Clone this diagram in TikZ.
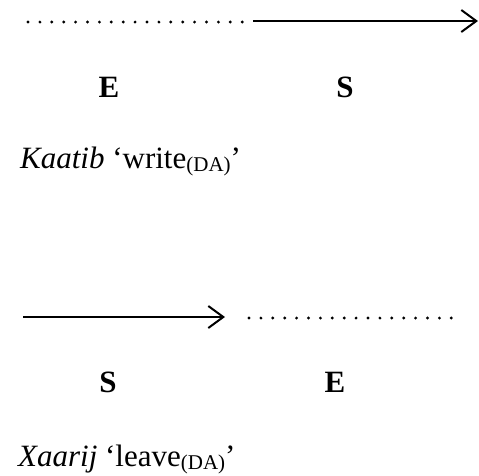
\documentclass[tikz,border=0pt]{standalone}
\usepackage{fontspec}
\setmainfont{Liberation Serif}
\usetikzlibrary{arrows.meta}
% lowered, smaller "(DA)" marker after the gloss
\newcommand{\dialsub}[1]{\raisebox{-3pt}{\fontsize{21}{24}\selectfont #1}}
\tikzset{
  timeline/.style={line width=2pt, -{Straight Barb[length=15pt,width=22pt,line width=2pt]}},
  dotline/.style={line width=3.2pt, line cap=round, dash pattern=on 0pt off 11.9pt},
  label/.style={inner sep=0pt, font=\fontsize{31}{37}\selectfont\bfseries, anchor=base},
  gloss/.style={inner sep=0pt, font=\fontsize{31}{37}\selectfont, anchor=base west}
}
\begin{document}
\begin{tikzpicture}[x=1pt,y=-1pt]
\useasboundingbox (0,0) rectangle (479,475);
% first pattern: dots then arrow
\coordinate (d1a) at (28,22);
\coordinate (d1b) at (243,22);
\coordinate (a1a) at (253,21);
\coordinate (a1b) at (478,21);
\draw[dotline] (d1a) -- (d1b);
\draw[timeline] (a1a) -- (a1b);
\node[label] (e1) at (109,97) {E};
\node[label] (s1) at (345,97) {S};
\node[gloss] (g1) at (20,168) {\textit{Kaatib} `write\dialsub{(DA)}'};
% second pattern: arrow then dots
\coordinate (a2a) at (23,317);
\coordinate (a2b) at (225,317);
\coordinate (d2a) at (249,318);
\coordinate (d2b) at (452,318);
\draw[timeline] (a2a) -- (a2b);
\draw[dotline] (d2a) -- (d2b);
\node[label] (s2) at (108,392) {S};
\node[label] (e2) at (335,392) {E};
\node[gloss] (g2) at (18,466) {\textit{Xaarij} `leave\dialsub{(DA)}'};
\end{tikzpicture}
\end{document}
